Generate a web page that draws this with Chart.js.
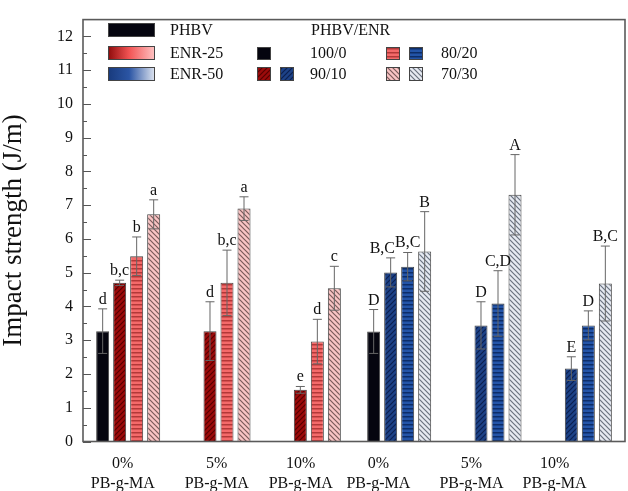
<!DOCTYPE html>
<html>
<head>
<meta charset="utf-8">
<script src="https://cdn.jsdelivr.net/npm/chart.js@4/dist/chart.umd.min.js"></script>
<style>
  body { margin: 0; background: #fff; }
  canvas { display: block; }
</style>
</head>
<body>
<canvas id="impactChart" width="628" height="491"></canvas>
<script>
// categories (two-line tick labels)
const groups = ['0%', '5%', '10%', '0%', '5%', '10%'];
const groupSuffix = 'PB-g-MA';
const yTicks = [0, 1, 2, 3, 4, 5, 6, 7, 8, 9, 10, 11, 12];

// PHBV/ENR ratio series: first three groups ENR-25, last three ENR-50
const v100 = [3.27, null, null, 3.26, null, null];
const e100 = [0.66, null, null, 0.65, null, null];
const v90 = [4.70, 3.27, 1.53, 5.01, 3.44, 2.16];
const e90 = [0.08, 0.87, 0.10, 0.43, 0.70, 0.35];
const v80 = [5.49, 4.70, 2.96, 5.18, 4.09, 3.44];
const e80 = [0.57, 0.97, 0.66, 0.42, 0.97, 0.43];
const v70 = [6.73, 6.90, 4.54, 5.63, 7.31, 4.68];
const e70 = [0.43, 0.35, 0.65, 1.18, 1.19, 1.11];

// significance letters
const l100 = ['d', null, null, 'D', null, null];
const l90 = ['b,c', 'd', 'e', 'B,C', 'D', 'E'];
const l80 = ['b', 'b,c', 'd', 'B,C', 'C,D', 'D'];
const l70 = ['a', 'a', 'c', 'B', 'A', 'B,C'];

// tick label centres in category units (the original labels sit left of the groups)
const labelPos = [-0.06, 0.98, 1.91, 2.77, 3.80, 4.72];

const serif = '"Liberation Serif", "Times New Roman", serif';

function hatch(bg, fg, kind) {
  const s = kind === 'h' ? 4 : 5;
  const c = document.createElement('canvas');
  c.width = s; c.height = s;
  const g = c.getContext('2d');
  g.fillStyle = bg;
  g.fillRect(0, 0, s, s);
  g.strokeStyle = fg;
  g.fillStyle = fg;
  g.lineWidth = 1.2;
  if (kind === 'h') {
    g.fillRect(0, 0, s, 1.5);
  } else {
    g.beginPath();
    if (kind === '/') {
      g.moveTo(0, s); g.lineTo(s, 0);
      g.moveTo(-1, 1); g.lineTo(1, -1);
      g.moveTo(s - 1, s + 1); g.lineTo(s + 1, s - 1);
    } else {
      g.moveTo(0, 0); g.lineTo(s, s);
      g.moveTo(-1, s - 1); g.lineTo(1, s + 1);
      g.moveTo(s - 1, -1); g.lineTo(s + 1, 1);
    }
    g.stroke();
  }
  return g.createPattern(c, 'repeat');
}

const black = '#05050f';
const redHatch = hatch('#9c0b0b', '#560000', '/');
const redHoriz = hatch('#f46a6a', '#b33838', 'h');
const pinkHatch = hatch('#f9c4c4', '#7a5a5a', '\\');
const blueHatch = hatch('#1d4287', '#0b2050', '/');
const blueHoriz = hatch('#2354a8', '#0d2d68', 'h');
const lightHatch = hatch('#e6eaf2', '#6a7280', '\\');

const pick = (red, blue) => (ctx) => ctx.dataIndex < 3 ? red : blue;

const errs = [e100, e90, e80, e70];
const letters = [l100, l90, l80, l70];

const errorBars = {
  id: 'errorBars',
  afterDatasetsDraw(chart) {
    const ctx = chart.ctx;
    const y = chart.scales.y;
    ctx.save();
    ctx.font = '16px ' + serif;
    const labels = [];
    chart.data.datasets.forEach((ds, di) => {
      const meta = chart.getDatasetMeta(di);
      meta.data.forEach((bar, i) => {
        const v = ds.data[i];
        if (v == null) return;
        const e = errs[di][i];
        const top = y.getPixelForValue(v + e);
        const bot = y.getPixelForValue(v - e);
        ctx.strokeStyle = '#666';
        ctx.lineWidth = 1;
        ctx.beginPath();
        ctx.moveTo(bar.x, top); ctx.lineTo(bar.x, bot);
        ctx.moveTo(bar.x - 4.5, top); ctx.lineTo(bar.x + 4.5, top);
        ctx.moveTo(bar.x - 4.5, bot); ctx.lineTo(bar.x + 4.5, bot);
        ctx.stroke();
        const t = letters[di][i];
        if (t) labels.push({ t, i, di, x: bar.x, y: top - 5, w: ctx.measureText(t).width });
      });
    });
    // nudge a letter left when it would run into its right neighbour
    for (let k = labels.length - 1; k >= 0; k--) {
      const a = labels[k];
      const b = labels.find(o => o.i === a.i && o.di === a.di + 1);
      if (!b || Math.abs(a.y - b.y) > 14) continue;
      const overlap = (a.x + a.w / 2) - (b.x - b.w / 2);
      if (overlap > 0) a.x -= overlap;
    }
    ctx.fillStyle = '#111';
    ctx.textAlign = 'center';
    ctx.textBaseline = 'alphabetic';
    labels.forEach(l => ctx.fillText(l.t, l.x, l.y));
    ctx.restore();
  }
};

function box(ctx, x, y, w, h, fill) {
  ctx.fillStyle = fill;
  ctx.fillRect(x, y, w, h);
  ctx.strokeStyle = '#444';
  ctx.lineWidth = 1;
  ctx.strokeRect(x + 0.5, y + 0.5, w - 1, h - 1);
}

const frameAndLegend = {
  id: 'frameAndLegend',
  beforeDraw(chart) {
    const ctx = chart.ctx;
    ctx.save();
    ctx.fillStyle = '#fff';
    ctx.fillRect(0, 0, chart.width, chart.height);
    ctx.restore();
  },
  afterDraw(chart) {
    const ctx = chart.ctx;
    const a = chart.chartArea;
    const y = chart.scales.y;
    const x = chart.scales.x;
    ctx.save();
    // inward ticks on the left axis
    ctx.strokeStyle = '#555';
    ctx.lineWidth = 1;
    ctx.beginPath();
    for (let v = 0; v <= 12; v += 0.5) {
      const py = Math.round(y.getPixelForValue(v)) + 0.5;
      const len = Number.isInteger(v) ? 8 : 4;
      ctx.moveTo(a.left, py); ctx.lineTo(a.left + len, py);
    }
    ctx.stroke();
    // frame
    ctx.strokeStyle = '#5a5a5a';
    ctx.lineWidth = 1.6;
    ctx.strokeRect(a.left, a.top, a.right - a.left, a.bottom - a.top);

    // category labels
    ctx.fillStyle = '#111';
    ctx.font = '16px ' + serif;
    ctx.textAlign = 'center';
    ctx.textBaseline = 'middle';
    groups.forEach((g, i) => {
      const px = x.getPixelForValue(labelPos[i]);
      ctx.fillText(g, px, a.bottom + 22);
      ctx.fillText(groupSuffix, px, a.bottom + 42);
    });

    // legend
    const g25 = ctx.createLinearGradient(108, 0, 155, 0);
    g25.addColorStop(0, '#8e0a0a');
    g25.addColorStop(0.45, '#f25454');
    g25.addColorStop(1, '#ffc4c4');
    const g50 = ctx.createLinearGradient(108, 0, 155, 0);
    g50.addColorStop(0, '#183a7c');
    g50.addColorStop(0.45, '#2b55a4');
    g50.addColorStop(1, '#dfe5f0');
    box(ctx, 108, 23, 47, 14, black);
    box(ctx, 108, 46, 47, 14, g25);
    box(ctx, 108, 67, 47, 14, g50);
    box(ctx, 257, 47, 14, 13, black);
    box(ctx, 257, 67, 14, 14, redHatch);
    box(ctx, 280, 67, 14, 14, blueHatch);
    box(ctx, 386, 47, 14, 13, redHoriz);
    box(ctx, 409, 47, 14, 13, blueHoriz);
    box(ctx, 386, 67, 14, 14, pinkHatch);
    box(ctx, 409, 67, 14, 14, lightHatch);

    ctx.fillStyle = '#111';
    ctx.textAlign = 'left';
    ctx.textBaseline = 'alphabetic';
    ctx.fillText('PHBV', 170, 35);
    ctx.fillText('ENR-25', 170, 58);
    ctx.fillText('ENR-50', 170, 79);
    ctx.fillText('PHBV/ENR', 311, 35);
    ctx.fillText('100/0', 310, 58);
    ctx.fillText('90/10', 310, 79);
    ctx.fillText('80/20', 441, 58);
    ctx.fillText('70/30', 441, 79);
    ctx.restore();
  }
};

new Chart(document.getElementById('impactChart'), {
  type: 'bar',
  data: {
    labels: groups,
    datasets: [
      { label: '100/0', data: v100, backgroundColor: black },
      { label: '90/10', data: v90, backgroundColor: pick(redHatch, blueHatch) },
      { label: '80/20', data: v80, backgroundColor: pick(redHoriz, blueHoriz) },
      { label: '70/30', data: v70, backgroundColor: pick(pinkHatch, lightHatch) }
    ].map(d => Object.assign(d, {
      borderColor: '#444', borderWidth: 1,
      categoryPercentage: 0.753, barPercentage: 0.765
    }))
  },
  options: {
    responsive: false,
    animation: false,
    devicePixelRatio: 1,
    layout: { padding: { left: 0, right: 3, top: 5, bottom: 49.5 } },
    plugins: { legend: { display: false }, tooltip: { enabled: false } },
    scales: {
      x: { type: 'category', display: false, offset: true },
      y: {
        min: 0, max: 12.5,
        grid: { display: false, drawTicks: false },
        border: { display: false },
        afterBuildTicks: (s) => { s.ticks = yTicks.map(v => ({ value: v })); },
        afterFit: (s) => { s.width = 83; },
        ticks: { padding: 10, color: '#111', font: { family: serif, size: 16 } },
        title: {
          display: true, text: 'Impact strength (J/m)', color: '#111',
          padding: 0, font: { family: serif, size: 27, lineHeight: 1 }
        }
      }
    }
  },
  plugins: [errorBars, frameAndLegend]
});
</script>
</body>
</html>
